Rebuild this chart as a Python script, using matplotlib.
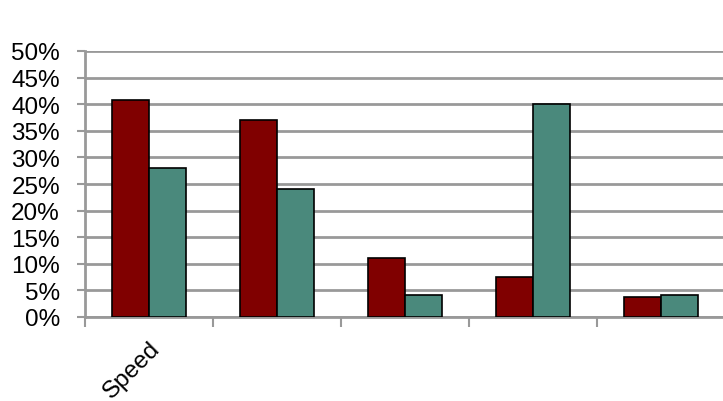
import numpy as np
import matplotlib
matplotlib.use("Agg")
import matplotlib.pyplot as plt
from matplotlib.ticker import PercentFormatter

categories = ["Speed", "", "", "", ""]
series_red = [40.8, 37.0, 11.1, 7.5, 3.8]
series_teal = [28.0, 24.0, 4.1, 40.0, 4.1]
y_ticks = list(range(0, 55, 5))

plt.rcParams["font.family"] = ["Liberation Sans", "DejaVu Sans"]

fig = plt.figure(figsize=(7.23, 4.02), dpi=100)
ax = fig.add_axes([85 / 723, 84 / 402, 640 / 723, 266 / 402])

x = np.arange(len(categories))
w = 0.29
ax.bar(x - w / 2, series_red, w, color="#800000", edgecolor="black", linewidth=1.2, zorder=3)
ax.bar(x + w / 2, series_teal, w, color="#4a897c", edgecolor="black", linewidth=1.2, zorder=3)

ax.set_xlim(-0.5, len(categories) - 0.5)
ax.set_ylim(0, 50)
ax.set_yticks(y_ticks)
ax.yaxis.set_major_formatter(PercentFormatter(decimals=0))
ax.yaxis.grid(True, color="#999999", linewidth=2, zorder=0)

# category boundary ticks, labels at centres
ax.set_xticks(np.arange(len(categories) + 1) - 0.5)
ax.set_xticklabels([])
ax.set_xticks(x, minor=True)
ax.set_xticklabels(categories, minor=True, rotation=45, ha="right", rotation_mode="anchor", fontsize=17.5)
ax.tick_params(axis="x", which="minor", length=0, pad=14)
ax.tick_params(axis="x", which="major", length=7, width=1.5, color="#999999")
ax.tick_params(axis="y", length=6, width=1.5, color="#999999", labelsize=17.5, pad=12)

for s in ["top", "right"]:
    ax.spines[s].set_visible(False)
for s in ["left", "bottom"]:
    ax.spines[s].set_color("#999999")
    ax.spines[s].set_linewidth(2)

fig.savefig("out.png", dpi=100)
